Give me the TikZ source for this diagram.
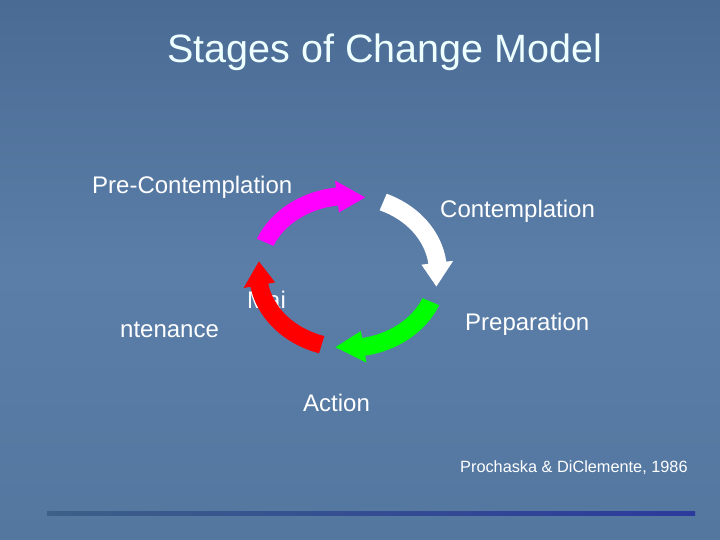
\documentclass[tikz,border=0pt]{standalone}
\usepackage{fontspec}
\setmainfont{Liberation Sans}
\definecolor{bgtop}{HTML}{4A6B94}
\definecolor{bgmid}{HTML}{5A7EA8}
\definecolor{bgbot}{HTML}{53779F}
\definecolor{titlec}{HTML}{EEFFFF}
\definecolor{lineL}{HTML}{3C6088}
\definecolor{lineR}{HTML}{2C3A9C}
\definecolor{cmag}{HTML}{FF00FF}
\definecolor{cgreen}{HTML}{00FF00}
\definecolor{cred}{HTML}{FF0000}
\tikzset{
  lbl/.style={text=white, font=\fontsize{24}{27}\selectfont, inner sep=0pt, anchor=west}
}
% #1 colour, #2 start angle, #3 angle where the head begins
\newcommand{\stagearc}[3]{%
  \fill[#1] ([shift={(#2:99pt and 85pt)}]c)
    arc[start angle=#2, end angle=#3, x radius=99pt, y radius=85pt]
    -- ([shift={(#3:106pt and 92pt)}]c)
    -- ([shift={(#3-18:90pt and 76pt)}]c)
    -- ([shift={(#3:74pt and 60pt)}]c)
    -- ([shift={(#3:81pt and 67pt)}]c)
    arc[start angle=#3, end angle=#2, x radius=81pt, y radius=67pt]
    -- cycle;}
\begin{document}
\begin{tikzpicture}[x=1pt,y=1pt]
\useasboundingbox (0,0) rectangle (720,540);
\shade[top color=bgtop, bottom color=bgmid] (0,540) rectangle (720,270);
\shade[top color=bgmid, bottom color=bgbot] (0,270) rectangle (720,0);
\node[text=titlec, font=\fontsize{39.5}{44}\selectfont, inner sep=0pt] (title) at (385,488) {Stages of Change Model};
\node[lbl] (mai) at (247,240) {Mai};
\coordinate (c) at (348,268);
\stagearc{cmag}{157}{97}
\stagearc{white}{67}{7}
\stagearc{cgreen}{-23}{-80}
\stagearc{cred}{-107}{-170}
\node[lbl] (pre) at (92,353) {Pre-Contemplation};
\node[lbl] (con) at (440,329) {Contemplation};
\node[lbl] (prep) at (465,216) {Preparation};
\node[lbl] (act) at (303,137) {Action};
\node[lbl] (nte) at (120,210) {ntenance};
\node[lbl, font=\fontsize{16.3}{19}\selectfont] (ref) at (460,72) {Prochaska \& DiClemente, 1986};
\shade[left color=lineL, right color=lineR] (47,24) rectangle (695,28);
\end{tikzpicture}
\end{document}
